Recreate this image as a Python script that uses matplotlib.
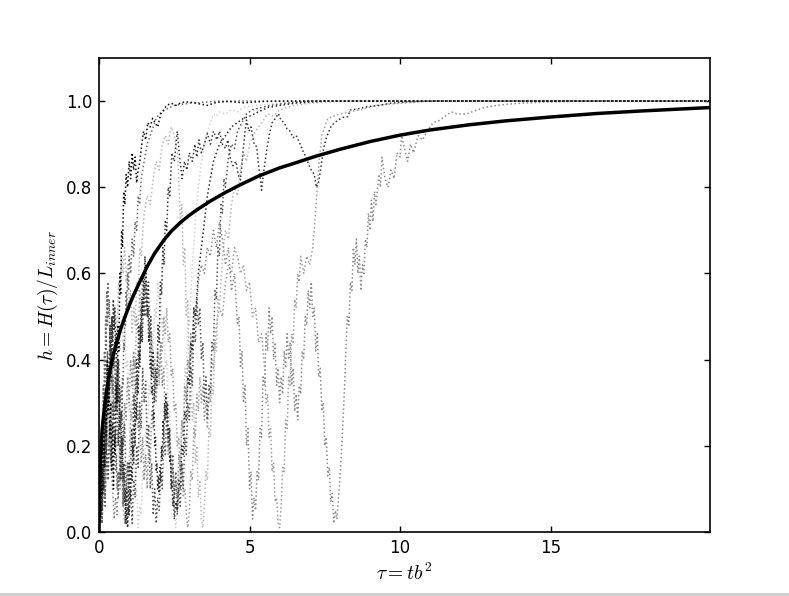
"""
h(tau) : mean curve plus a few single runs (dotted)
"""
import matplotlib
matplotlib.use("Agg")
import matplotlib.pyplot as plt
from matplotlib.patches import Rectangle

plt.rcParams['mathtext.fontset'] = 'cm'
plt.rcParams['font.size'] = 12

# mean curve  (tau, h)
tau_mean = [0.0, 0.005, 0.01, 0.02, 0.05, 0.1, 0.18, 0.27, 0.38, 0.49, 0.6, 0.71, 0.85, 1.04, 1.15, 1.35,
            1.6, 1.85, 2.15, 2.4, 2.7, 3.0, 3.26, 3.7, 4.2, 4.7, 5.3, 6.0, 6.5, 7.2, 8.0, 9.0, 10.0, 11.0,
            12.3, 13.5, 15.0, 16.5, 18.0, 20.3]
h_mean = [0.0, 0.05, 0.075, 0.105, 0.165, 0.235, 0.29, 0.337, 0.38, 0.415, 0.443, 0.469, 0.497, 0.532,
          0.55, 0.58, 0.616, 0.647, 0.677, 0.698, 0.718, 0.735, 0.748, 0.768, 0.788, 0.806, 0.826, 0.845,
          0.856, 0.872, 0.888, 0.906, 0.921, 0.933, 0.945, 0.954, 0.963, 0.971, 0.977, 0.985]

# single runs, (tau, h) pairs
run_a = [(0, 0), (0.03, 0.10), (0.06, 0.04), (0.09, 0.16), (0.12, 0.09), (0.15, 0.24), (0.18, 0.15),
         (0.21, 0.33), (0.24, 0.22), (0.27, 0.40), (0.30, 0.28), (0.33, 0.36), (0.36, 0.22), (0.39, 0.30),
         (0.42, 0.14), (0.45, 0.25), (0.48, 0.10), (0.51, 0.22), (0.54, 0.18), (0.57, 0.34), (0.60, 0.30),
         (0.63, 0.48), (0.66, 0.42), (0.69, 0.60), (0.72, 0.55), (0.75, 0.70), (0.78, 0.66), (0.82, 0.79),
         (0.86, 0.76), (0.90, 0.83), (0.95, 0.80), (1.00, 0.86), (1.05, 0.82), (1.10, 0.88), (1.15, 0.84),
         (1.20, 0.87), (1.25, 0.81), (1.30, 0.84), (1.36, 0.86), (1.42, 0.90), (1.48, 0.93), (1.55, 0.91),
         (1.62, 0.95), (1.70, 0.94), (1.78, 0.96), (1.86, 0.95), (1.95, 0.94), (2.05, 0.97), (2.15, 0.98),
         (2.25, 0.99), (2.40, 0.995), (2.55, 0.99), (2.75, 0.997), (3.0, 0.998), (3.3, 0.994), (3.6, 0.99),
         (3.9, 0.997), (4.3, 0.999), (4.8, 0.996), (5.4, 0.999), (6.2, 1.0), (20.3, 1.0)]

run_b = [(0, 0), (0.04, 0.12), (0.08, 0.05), (0.12, 0.2), (0.16, 0.1), (0.2, 0.3), (0.24, 0.18), (0.28, 0.42),
         (0.32, 0.3), (0.36, 0.48), (0.4, 0.35), (0.44, 0.5), (0.48, 0.38), (0.52, 0.44), (0.56, 0.28),
         (0.6, 0.36), (0.64, 0.2), (0.68, 0.3), (0.72, 0.12), (0.76, 0.22), (0.8, 0.06), (0.84, 0.14),
         (0.88, 0.02), (0.92, 0.1), (0.96, 0.05), (1.0, 0.16), (1.04, 0.1), (1.08, 0.24), (1.12, 0.18),
         (1.16, 0.32), (1.2, 0.25), (1.24, 0.4), (1.28, 0.34), (1.32, 0.48), (1.36, 0.4), (1.4, 0.52),
         (1.44, 0.44), (1.48, 0.56), (1.52, 0.5), (1.56, 0.6), (1.6, 0.52), (1.64, 0.58), (1.68, 0.45),
         (1.72, 0.5), (1.76, 0.36), (1.8, 0.42), (1.84, 0.3), (1.88, 0.38), (1.92, 0.34), (1.96, 0.48),
         (2.0, 0.44), (2.04, 0.58), (2.08, 0.55), (2.12, 0.66), (2.16, 0.62), (2.2, 0.72), (2.25, 0.7),
         (2.3, 0.8), (2.35, 0.78), (2.42, 0.88), (2.5, 0.86), (2.6, 0.93), (2.68, 0.87), (2.76, 0.82),
         (2.84, 0.86), (2.92, 0.84), (3.0, 0.88), (3.1, 0.86), (3.18, 0.9), (3.25, 0.87), (3.32, 0.91),
         (3.4, 0.88), (3.5, 0.9), (3.6, 0.925), (3.7, 0.9), (3.8, 0.93), (3.92, 0.91), (4.0, 0.93),
         (4.1, 0.9), (4.2, 0.89), (4.28, 0.91), (4.35, 0.87), (4.45, 0.85), (4.55, 0.86), (4.62, 0.83),
         (4.7, 0.817), (4.78, 0.88), (4.85, 0.93), (4.9, 0.956), (4.98, 0.93), (5.05, 0.94), (5.15, 0.9),
         (5.24, 0.894), (5.3, 0.85), (5.36, 0.82), (5.4, 0.793), (5.46, 0.83), (5.52, 0.86), (5.57, 0.886),
         (5.65, 0.92), (5.75, 0.95), (5.86, 0.96), (5.96, 0.971), (6.05, 0.955), (6.15, 0.95),
         (6.25, 0.935), (6.35, 0.93), (6.45, 0.915), (6.55, 0.92), (6.68, 0.9), (6.8, 0.88), (6.88, 0.87),
         (6.95, 0.855), (7.05, 0.84), (7.15, 0.83), (7.22, 0.8), (7.29, 0.81), (7.38, 0.85), (7.46, 0.89),
         (7.56, 0.917), (7.7, 0.94), (7.82, 0.95), (7.95, 0.956), (8.1, 0.962), (8.27, 0.964),
         (8.34, 0.979), (8.6, 0.982), (8.9, 0.987), (9.3, 0.99), (9.67, 0.995), (10.2, 0.998),
         (11.0, 1.0), (20.3, 1.0)]

run_c = [(0, 0), (0.05, 0.08), (0.1, 0.02), (0.15, 0.14), (0.2, 0.06), (0.25, 0.2), (0.3, 0.12), (0.35, 0.26),
         (0.4, 0.16), (0.45, 0.3), (0.5, 0.22), (0.55, 0.36), (0.6, 0.28), (0.65, 0.4), (0.7, 0.3),
         (0.75, 0.34), (0.8, 0.2), (0.85, 0.25), (0.9, 0.1), (0.95, 0.16), (1.0, 0.04), (1.05, 0.1),
         (1.1, 0.02), (1.15, 0.12), (1.2, 0.08), (1.25, 0.2), (1.3, 0.15), (1.35, 0.3), (1.4, 0.24),
         (1.45, 0.38), (1.5, 0.3), (1.55, 0.35), (1.6, 0.2), (1.65, 0.25), (1.7, 0.1), (1.75, 0.16),
         (1.8, 0.04), (1.85, 0.1), (1.9, 0.02), (1.95, 0.08), (2.0, 0.05), (2.05, 0.14), (2.1, 0.1),
         (2.15, 0.22), (2.2, 0.18), (2.25, 0.28), (2.3, 0.2), (2.35, 0.24), (2.4, 0.12), (2.45, 0.18),
         (2.5, 0.08), (2.55, 0.14), (2.6, 0.04), (2.65, 0.1), (2.7, 0.06), (2.75, 0.16), (2.8, 0.1),
         (2.85, 0.22), (2.9, 0.18), (2.95, 0.3), (3.0, 0.26), (3.05, 0.38), (3.1, 0.34), (3.15, 0.48),
         (3.2, 0.44), (3.25, 0.54), (3.3, 0.48), (3.35, 0.52), (3.4, 0.4), (3.45, 0.44), (3.5, 0.3),
         (3.55, 0.36), (3.6, 0.26), (3.65, 0.34), (3.7, 0.32), (3.75, 0.44), (3.8, 0.42), (3.85, 0.56),
         (3.9, 0.54), (3.95, 0.66), (4.0, 0.64), (4.05, 0.76), (4.1, 0.74), (4.15, 0.82), (4.2, 0.8),
         (4.3, 0.87), (4.4, 0.9), (4.5, 0.89), (4.6, 0.93), (4.75, 0.95), (4.9, 0.97), (5.1, 0.98),
         (5.4, 0.985), (5.7, 0.99), (6.2, 0.995), (7.0, 1.0), (20.3, 1.0)]

run_d = [(0, 0), (0.05, 0.06), (0.1, 0.02), (0.15, 0.12), (0.2, 0.08), (0.25, 0.18), (0.3, 0.12), (0.35, 0.22),
         (0.4, 0.15), (0.45, 0.1), (0.5, 0.03), (0.55, 0.08), (0.6, 0.04), (0.65, 0.14), (0.7, 0.1),
         (0.75, 0.22), (0.8, 0.18), (0.85, 0.3), (0.9, 0.26), (0.95, 0.36), (1.0, 0.3), (1.05, 0.4),
         (1.1, 0.34), (1.15, 0.42), (1.2, 0.32), (1.25, 0.36), (1.3, 0.24), (1.35, 0.28), (1.4, 0.16),
         (1.45, 0.22), (1.5, 0.12), (1.55, 0.18), (1.6, 0.1), (1.65, 0.2), (1.7, 0.16), (1.75, 0.28),
         (1.8, 0.24), (1.85, 0.36), (1.9, 0.3), (1.95, 0.42), (2.0, 0.36), (2.05, 0.44), (2.1, 0.34),
         (2.15, 0.38), (2.2, 0.26), (2.25, 0.3), (2.3, 0.18), (2.35, 0.22), (2.4, 0.1), (2.45, 0.15),
         (2.5, 0.06), (2.55, 0.12), (2.6, 0.08), (2.65, 0.18), (2.7, 0.14), (2.75, 0.26), (2.8, 0.22),
         (2.85, 0.34), (2.9, 0.3), (2.95, 0.4), (3.0, 0.36), (3.05, 0.46), (3.1, 0.4), (3.15, 0.52),
         (3.2, 0.48), (3.3, 0.58), (3.4, 0.62), (3.5, 0.6), (3.6, 0.66), (3.7, 0.64), (3.8, 0.7),
         (3.9, 0.66), (4.0, 0.72), (4.1, 0.68), (4.2, 0.62), (4.3, 0.66), (4.4, 0.56), (4.5, 0.6),
         (4.6, 0.48), (4.65, 0.5), (4.7, 0.38), (4.75, 0.42), (4.8, 0.3), (4.85, 0.34), (4.9, 0.2),
         (4.95, 0.24), (5.0, 0.1), (5.05, 0.14), (5.1, 0.03), (5.15, 0.08), (5.2, 0.05), (5.25, 0.14),
         (5.3, 0.12), (5.35, 0.24), (5.4, 0.22), (5.45, 0.36), (5.5, 0.34), (5.55, 0.46), (5.6, 0.42),
         (5.65, 0.52), (5.7, 0.46), (5.75, 0.5), (5.8, 0.4), (5.85, 0.44), (5.9, 0.34), (5.95, 0.38),
         (6.0, 0.3), (6.05, 0.36), (6.1, 0.32), (6.15, 0.42), (6.2, 0.38), (6.25, 0.46), (6.3, 0.4),
         (6.35, 0.44), (6.4, 0.34), (6.45, 0.38), (6.5, 0.28), (6.55, 0.32), (6.6, 0.26), (6.65, 0.34),
         (6.7, 0.32), (6.75, 0.42), (6.8, 0.4), (6.85, 0.5), (6.9, 0.48), (6.95, 0.56), (7.0, 0.52),
         (7.05, 0.58), (7.1, 0.5), (7.15, 0.52), (7.2, 0.42), (7.25, 0.46), (7.3, 0.36), (7.35, 0.38),
         (7.4, 0.28), (7.45, 0.3), (7.5, 0.2), (7.55, 0.22), (7.6, 0.13), (7.65, 0.15), (7.7, 0.07),
         (7.75, 0.09), (7.8, 0.02), (7.85, 0.05), (7.9, 0.03), (8.0, 0.12), (8.08, 0.22), (8.16, 0.34),
         (8.2, 0.42), (8.25, 0.5), (8.3, 0.48), (8.35, 0.58), (8.4, 0.56), (8.45, 0.66), (8.5, 0.62),
         (8.55, 0.68), (8.6, 0.6), (8.65, 0.64), (8.7, 0.56), (8.75, 0.62), (8.8, 0.6), (8.85, 0.68),
         (8.9, 0.66), (8.95, 0.74), (9.0, 0.7), (9.05, 0.77), (9.1, 0.72), (9.15, 0.79), (9.2, 0.76),
         (9.3, 0.83), (9.35, 0.8), (9.4, 0.87), (9.5, 0.82), (9.6, 0.8), (9.7, 0.84), (9.8, 0.82),
         (9.9, 0.88), (10.0, 0.87), (10.05, 0.92), (10.15, 0.89), (10.25, 0.86), (10.35, 0.9),
         (10.45, 0.88), (10.6, 0.92), (10.75, 0.91), (10.9, 0.93), (11.1, 0.95), (11.3, 0.955),
         (11.5, 0.965), (11.7, 0.975), (11.9, 0.97), (12.2, 0.97), (12.5, 0.978), (12.8, 0.985),
         (13.2, 0.99), (13.6, 0.993), (14.0, 0.995), (15.0, 0.998), (16.0, 1.0), (20.3, 1.0)]

run_e = [(0, 0), (0.05, 0.1), (0.1, 0.05), (0.15, 0.18), (0.2, 0.12), (0.25, 0.26), (0.3, 0.2), (0.35, 0.34),
         (0.4, 0.28), (0.45, 0.42), (0.5, 0.38), (0.55, 0.5), (0.6, 0.46), (0.65, 0.58), (0.7, 0.55),
         (0.75, 0.64), (0.8, 0.6), (0.85, 0.66), (0.9, 0.58), (0.95, 0.62), (1.0, 0.52), (1.05, 0.56),
         (1.1, 0.46), (1.15, 0.52), (1.2, 0.48), (1.25, 0.58), (1.3, 0.56), (1.35, 0.66), (1.4, 0.64),
         (1.5, 0.74), (1.6, 0.78), (1.7, 0.76), (1.8, 0.82), (1.9, 0.86), (2.0, 0.84), (2.1, 0.9),
         (2.2, 0.92), (2.3, 0.9), (2.4, 0.94), (2.5, 0.92), (2.6, 0.88), (2.65, 0.82), (2.7, 0.72),
         (2.75, 0.76), (2.8, 0.62), (2.85, 0.66), (2.9, 0.5), (2.95, 0.54), (3.0, 0.38), (3.05, 0.42),
         (3.1, 0.26), (3.15, 0.3), (3.2, 0.16), (3.25, 0.2), (3.3, 0.08), (3.35, 0.12), (3.4, 0.03),
         (3.45, 0.01), (3.5, 0.06), (3.55, 0.14), (3.6, 0.12), (3.65, 0.24), (3.7, 0.22), (3.75, 0.34),
         (3.8, 0.32), (3.85, 0.44), (3.9, 0.42), (3.95, 0.54), (4.0, 0.52), (4.1, 0.64), (4.2, 0.7),
         (4.3, 0.68), (4.4, 0.76), (4.5, 0.8), (4.6, 0.78), (4.7, 0.84), (4.8, 0.88), (4.9, 0.86),
         (5.0, 0.9), (5.2, 0.93), (5.4, 0.95), (5.6, 0.97), (5.8, 0.965), (6.0, 0.98), (6.5, 0.99),
         (7.0, 0.995), (8.0, 1.0), (20.3, 1.0)]

run_f = [(0, 0), (0.05, 0.05), (0.1, 0.02), (0.15, 0.1), (0.2, 0.08), (0.25, 0.18), (0.3, 0.15), (0.35, 0.26),
         (0.4, 0.24), (0.45, 0.34), (0.5, 0.3), (0.55, 0.4), (0.6, 0.36), (0.65, 0.46), (0.7, 0.42),
         (0.75, 0.5), (0.8, 0.44), (0.85, 0.48), (0.9, 0.38), (0.95, 0.4), (1.0, 0.28), (1.05, 0.3),
         (1.1, 0.18), (1.15, 0.2), (1.2, 0.08), (1.25, 0.1), (1.3, 0.01), (1.35, 0.06), (1.4, 0.04),
         (1.45, 0.14), (1.5, 0.12), (1.55, 0.24), (1.6, 0.22), (1.65, 0.34), (1.7, 0.32), (1.75, 0.44),
         (1.8, 0.42), (1.85, 0.52), (1.9, 0.5), (1.95, 0.58), (2.0, 0.54), (2.05, 0.58), (2.1, 0.48),
         (2.15, 0.5), (2.2, 0.38), (2.25, 0.4), (2.3, 0.26), (2.35, 0.28), (2.4, 0.14), (2.45, 0.16),
         (2.5, 0.05), (2.55, 0.01), (2.6, 0.05), (2.65, 0.14), (2.7, 0.12), (2.75, 0.26), (2.8, 0.24),
         (2.85, 0.38), (2.9, 0.36), (2.95, 0.5), (3.0, 0.48), (3.1, 0.62), (3.2, 0.72), (3.3, 0.8),
         (3.4, 0.86), (3.5, 0.9), (3.6, 0.93), (3.7, 0.95), (3.8, 0.97), (3.9, 0.965), (4.0, 0.975),
         (4.2, 0.97), (4.4, 0.98), (4.6, 0.975), (4.8, 0.985), (5.2, 0.99), (6.0, 0.995), (7.0, 1.0),
         (20.3, 1.0)]

run_g = [(0, 0), (0.05, 0.12), (0.1, 0.06), (0.15, 0.2), (0.2, 0.14), (0.25, 0.3), (0.3, 0.26), (0.35, 0.4),
         (0.4, 0.34), (0.45, 0.38), (0.5, 0.28), (0.55, 0.32), (0.6, 0.2), (0.65, 0.24), (0.7, 0.12),
         (0.75, 0.16), (0.8, 0.06), (0.85, 0.02), (0.9, 0.06), (0.95, 0.16), (1.0, 0.14), (1.05, 0.28),
         (1.1, 0.26), (1.15, 0.4), (1.2, 0.38), (1.25, 0.5), (1.3, 0.46), (1.35, 0.56), (1.4, 0.52),
         (1.45, 0.6), (1.5, 0.54), (1.55, 0.58), (1.6, 0.5), (1.65, 0.52), (1.7, 0.42), (1.75, 0.46),
         (1.8, 0.36), (1.85, 0.4), (1.9, 0.32), (1.95, 0.38), (2.0, 0.34), (2.05, 0.44), (2.1, 0.42),
         (2.15, 0.5), (2.2, 0.46), (2.25, 0.52), (2.3, 0.44), (2.35, 0.46), (2.4, 0.36), (2.45, 0.38),
         (2.5, 0.28), (2.55, 0.3), (2.6, 0.2), (2.65, 0.22), (2.7, 0.14), (2.75, 0.16), (2.8, 0.08),
         (2.85, 0.1), (2.9, 0.04), (2.95, 0.01), (3.0, 0.05), (3.05, 0.14), (3.1, 0.12), (3.15, 0.24),
         (3.2, 0.22), (3.25, 0.32), (3.3, 0.28), (3.35, 0.36), (3.4, 0.3), (3.45, 0.34), (3.5, 0.26),
         (3.55, 0.3), (3.6, 0.24), (3.65, 0.32), (3.7, 0.3), (3.75, 0.4), (3.8, 0.38), (3.9, 0.48),
         (4.0, 0.52), (4.1, 0.5), (4.2, 0.58), (4.3, 0.62), (4.4, 0.6), (4.5, 0.66), (4.6, 0.64),
         (4.7, 0.6), (4.8, 0.62), (4.9, 0.56), (5.0, 0.58), (5.1, 0.5), (5.2, 0.52), (5.3, 0.44),
         (5.4, 0.46), (5.5, 0.38), (5.55, 0.3), (5.6, 0.32), (5.65, 0.22), (5.7, 0.24), (5.75, 0.14),
         (5.8, 0.16), (5.85, 0.07), (5.9, 0.08), (5.95, 0.02), (6.0, 0.01), (6.05, 0.06), (6.1, 0.15),
         (6.15, 0.14), (6.2, 0.26), (6.25, 0.24), (6.3, 0.36), (6.35, 0.34), (6.4, 0.46), (6.45, 0.44),
         (6.5, 0.54), (6.55, 0.52), (6.6, 0.6), (6.65, 0.58), (6.7, 0.64), (6.8, 0.6), (6.9, 0.64),
         (7.0, 0.62), (7.1, 0.66), (7.2, 0.75), (7.3, 0.85), (7.4, 0.92), (7.6, 0.96), (8.0, 0.97),
         (8.3, 0.975), (8.7, 0.98), (9.2, 0.99), (10.0, 0.995), (11.0, 1.0), (20.3, 1.0)]

run_h = [(0, 0), (0.025, 0.06), (0.05, 0.02), (0.075, 0.1), (0.1, 0.05), (0.125, 0.15), (0.15, 0.1),
         (0.175, 0.2), (0.2, 0.15), (0.225, 0.26), (0.25, 0.2), (0.275, 0.32), (0.3, 0.27), (0.325, 0.38),
         (0.35, 0.33), (0.375, 0.44), (0.4, 0.38), (0.425, 0.5), (0.45, 0.44), (0.475, 0.54), (0.5, 0.47),
         (0.525, 0.52), (0.55, 0.42), (0.575, 0.46), (0.6, 0.36), (0.625, 0.4), (0.65, 0.3), (0.675, 0.34),
         (0.7, 0.24), (0.725, 0.28), (0.75, 0.18), (0.775, 0.22), (0.8, 0.12), (0.825, 0.16), (0.85, 0.07),
         (0.875, 0.1), (0.9, 0.02), (0.925, 0.05), (0.95, 0.01), (0.975, 0.06), (1.0, 0.04), (1.025, 0.1),
         (1.05, 0.07), (1.075, 0.15), (1.1, 0.12), (1.125, 0.2), (1.15, 0.16), (1.175, 0.25), (1.2, 0.2),
         (1.225, 0.3), (1.25, 0.26), (1.275, 0.36), (1.3, 0.32), (1.325, 0.42), (1.35, 0.38),
         (1.375, 0.48), (1.4, 0.44), (1.425, 0.54), (1.45, 0.5), (1.475, 0.6), (1.5, 0.56), (1.525, 0.64),
         (1.55, 0.6), (1.575, 0.56), (1.6, 0.5), (1.625, 0.52), (1.65, 0.44), (1.675, 0.46), (1.7, 0.38),
         (1.725, 0.4), (1.75, 0.32), (1.775, 0.34), (1.8, 0.26), (1.825, 0.28), (1.85, 0.2), (1.875, 0.22),
         (1.9, 0.14), (1.925, 0.16), (1.95, 0.1), (1.975, 0.13), (2.0, 0.09), (2.025, 0.15), (2.05, 0.12),
         (2.075, 0.2), (2.1, 0.17), (2.125, 0.26), (2.15, 0.22), (2.175, 0.3), (2.2, 0.26), (2.225, 0.32),
         (2.25, 0.27), (2.275, 0.3), (2.3, 0.22), (2.325, 0.24), (2.35, 0.16), (2.375, 0.18), (2.4, 0.1),
         (2.425, 0.12), (2.45, 0.06), (2.475, 0.08), (2.5, 0.03), (2.55, 0.07), (2.6, 0.05), (2.65, 0.12),
         (2.7, 0.1), (2.75, 0.2), (2.8, 0.18), (2.85, 0.28), (2.9, 0.26), (2.95, 0.36), (3.0, 0.34),
         (3.05, 0.44), (3.1, 0.42), (3.15, 0.52), (3.2, 0.5), (3.3, 0.6), (3.4, 0.66), (3.5, 0.72),
         (3.6, 0.78), (3.7, 0.82), (3.8, 0.86), (3.9, 0.88), (4.0, 0.9), (4.2, 0.92), (4.4, 0.94),
         (4.6, 0.95), (4.8, 0.96), (5.0, 0.965), (5.3, 0.975), (5.6, 0.985), (6.0, 0.99), (6.5, 0.995),
         (7.5, 1.0), (20.3, 1.0)]

run_i = [(0, 0), (0.02, 0.1), (0.04, 0.04), (0.06, 0.18), (0.08, 0.1), (0.1, 0.26), (0.12, 0.18), (0.14, 0.34),
         (0.16, 0.26), (0.18, 0.42), (0.2, 0.34), (0.22, 0.5), (0.24, 0.42), (0.26, 0.56), (0.28, 0.48),
         (0.3, 0.58), (0.32, 0.5), (0.34, 0.54), (0.36, 0.44), (0.38, 0.48), (0.4, 0.38), (0.42, 0.42),
         (0.44, 0.32), (0.46, 0.36), (0.48, 0.26), (0.5, 0.3), (0.52, 0.2), (0.54, 0.24), (0.56, 0.14),
         (0.58, 0.18), (0.6, 0.1), (0.62, 0.14), (0.64, 0.08), (0.66, 0.14), (0.68, 0.12), (0.7, 0.2),
         (0.72, 0.18), (0.74, 0.28), (0.76, 0.26), (0.78, 0.36), (0.8, 0.34), (0.82, 0.44), (0.84, 0.42),
         (0.86, 0.5), (0.88, 0.48), (0.9, 0.56), (0.92, 0.52), (0.95, 0.6), (0.98, 0.56), (1.0, 0.64),
         (1.05, 0.6), (1.1, 0.68), (1.15, 0.64), (1.2, 0.72), (1.25, 0.7), (1.3, 0.78), (1.35, 0.76),
         (1.4, 0.82), (1.5, 0.86), (1.6, 0.9), (1.7, 0.92), (1.8, 0.94), (1.9, 0.96), (2.0, 0.97),
         (2.2, 0.98), (2.5, 0.99), (3.0, 0.995), (4.0, 1.0), (20.3, 1.0)]

runs = [run_f, run_e, run_g, run_d, run_i, run_c, run_h, run_b, run_a]
run_grays = ['0.82', '0.72', '0.62', '0.55', '0.42', '0.35', '0.18', '0.22', '0.05']

fig = plt.figure(figsize=(7.89, 5.96), dpi=100)
ax = fig.add_axes([0.1255, 0.1074, 0.7745, 0.7953])

for pts, g in zip(runs, run_grays):
    xs = [p[0] for p in pts]
    ys = [p[1] for p in pts]
    ax.plot(xs, ys, linestyle=':', color=g, linewidth=1.1)

ax.plot(tau_mean, h_mean, color='k', linewidth=2.5, solid_joinstyle='round')

ax.set_xlim(0, 20.3)
ax.set_ylim(0, 1.1)
ax.set_xticks([0, 5, 10, 15])
ax.set_yticks([0.0, 0.2, 0.4, 0.6, 0.8, 1.0])
ax.set_yticklabels(['0.0', '0.2', '0.4', '0.6', '0.8', '1.0'])
ax.tick_params(direction='in', top=True, right=True, length=4, width=1, pad=5)
for s in ax.spines.values():
    s.set_linewidth(1.2)

ax.set_xlabel(r'$\tau=tb^2$', fontsize=14)
ax.set_ylabel(r'$h=H(\tau)/L_{inner}$', fontsize=14)

# thin gray strip at the very bottom of the picture
fig.patches.append(Rectangle((0, 0), 1, 3.0 / 596, transform=fig.transFigure,
                             facecolor='#d0d0d0', edgecolor='none'))

plt.savefig('out.png', dpi=100)
